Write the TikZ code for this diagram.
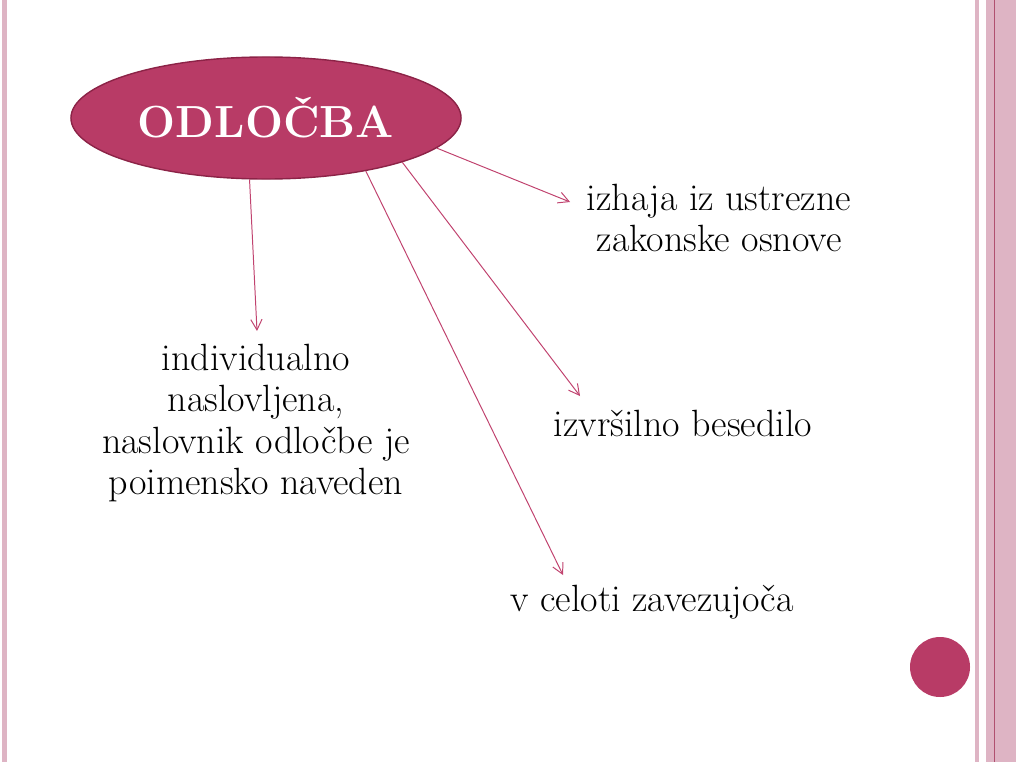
\documentclass[tikz,border=0pt]{standalone}
\usepackage{fontspec}
\usepackage{xcolor}
\usepackage{tikz}
\usetikzlibrary{positioning}
\usetikzlibrary{shapes.geometric}
\usetikzlibrary{arrows.meta}
\definecolor{odlred}{RGB}{184,59,102}
\definecolor{odldark}{RGB}{140,35,71}
\definecolor{odlline}{RGB}{192,66,110}
\definecolor{odlpink}{RGB}{222,180,196}
\definecolor{odlstripe}{RGB}{176,80,111}

\begin{document}
\begin{tikzpicture}[x=0.025cm,y=-0.025cm,
    word/.style={align=center,font=\fontsize{27}{29.5}\selectfont},
    pointer/.style={draw=odlline,line width=0.7pt,-{Straight Barb[length=7.5pt,width=8pt]}}]
            \useasboundingbox (0,0) rectangle (1016,762);
            % slide frame
            \fill[odlpink] (2,0) rectangle (7,762);
            \fill[odlpink] (975,0) rectangle (979,762);
            \fill[odlpink] (986,0) rectangle (1016,762);
            \fill[odlstripe] (993.5,0) rectangle (995,762);
            \fill[odlred] (940,667) circle (30);
            % main node
            \node[ellipse,fill=odlred,draw=odldark,line width=1pt,inner sep=0pt,
                  minimum width=9.75cm,minimum height=3.05cm,text=white,
                  font=\bfseries\fontsize{32}{38}\selectfont] (odlocba) at (266,118) {ODLOČBA};
            % the four properties
            \node[word] (osnova) at (719,218) {izhaja iz ustrezne\\zakonske osnove};
            \node[word] (naslov) at (256,423) {individualno\\naslovljena,\\naslovnik odločbe je\\poimensko naveden};
            \node[word] (izvrs) at (683,423) {izvršilno besedilo};
            \node[word] (celota) at (652,602) {v celoti zavezujoča};
            \coordinate (tipA) at (257,331);
            \coordinate (tipB) at (563,575);
            \coordinate (tipC) at (580,396);
            \coordinate (tipD) at (570,202);
            \draw[pointer] (odlocba.-105.6) -- (tipA);
            \draw[pointer] (odlocba.-28.9) -- (tipB);
            \draw[pointer] (odlocba.-18.8) -- (tipC);
            \draw[pointer] (odlocba.-10.5) -- (tipD);
\end{tikzpicture}
\end{document}
